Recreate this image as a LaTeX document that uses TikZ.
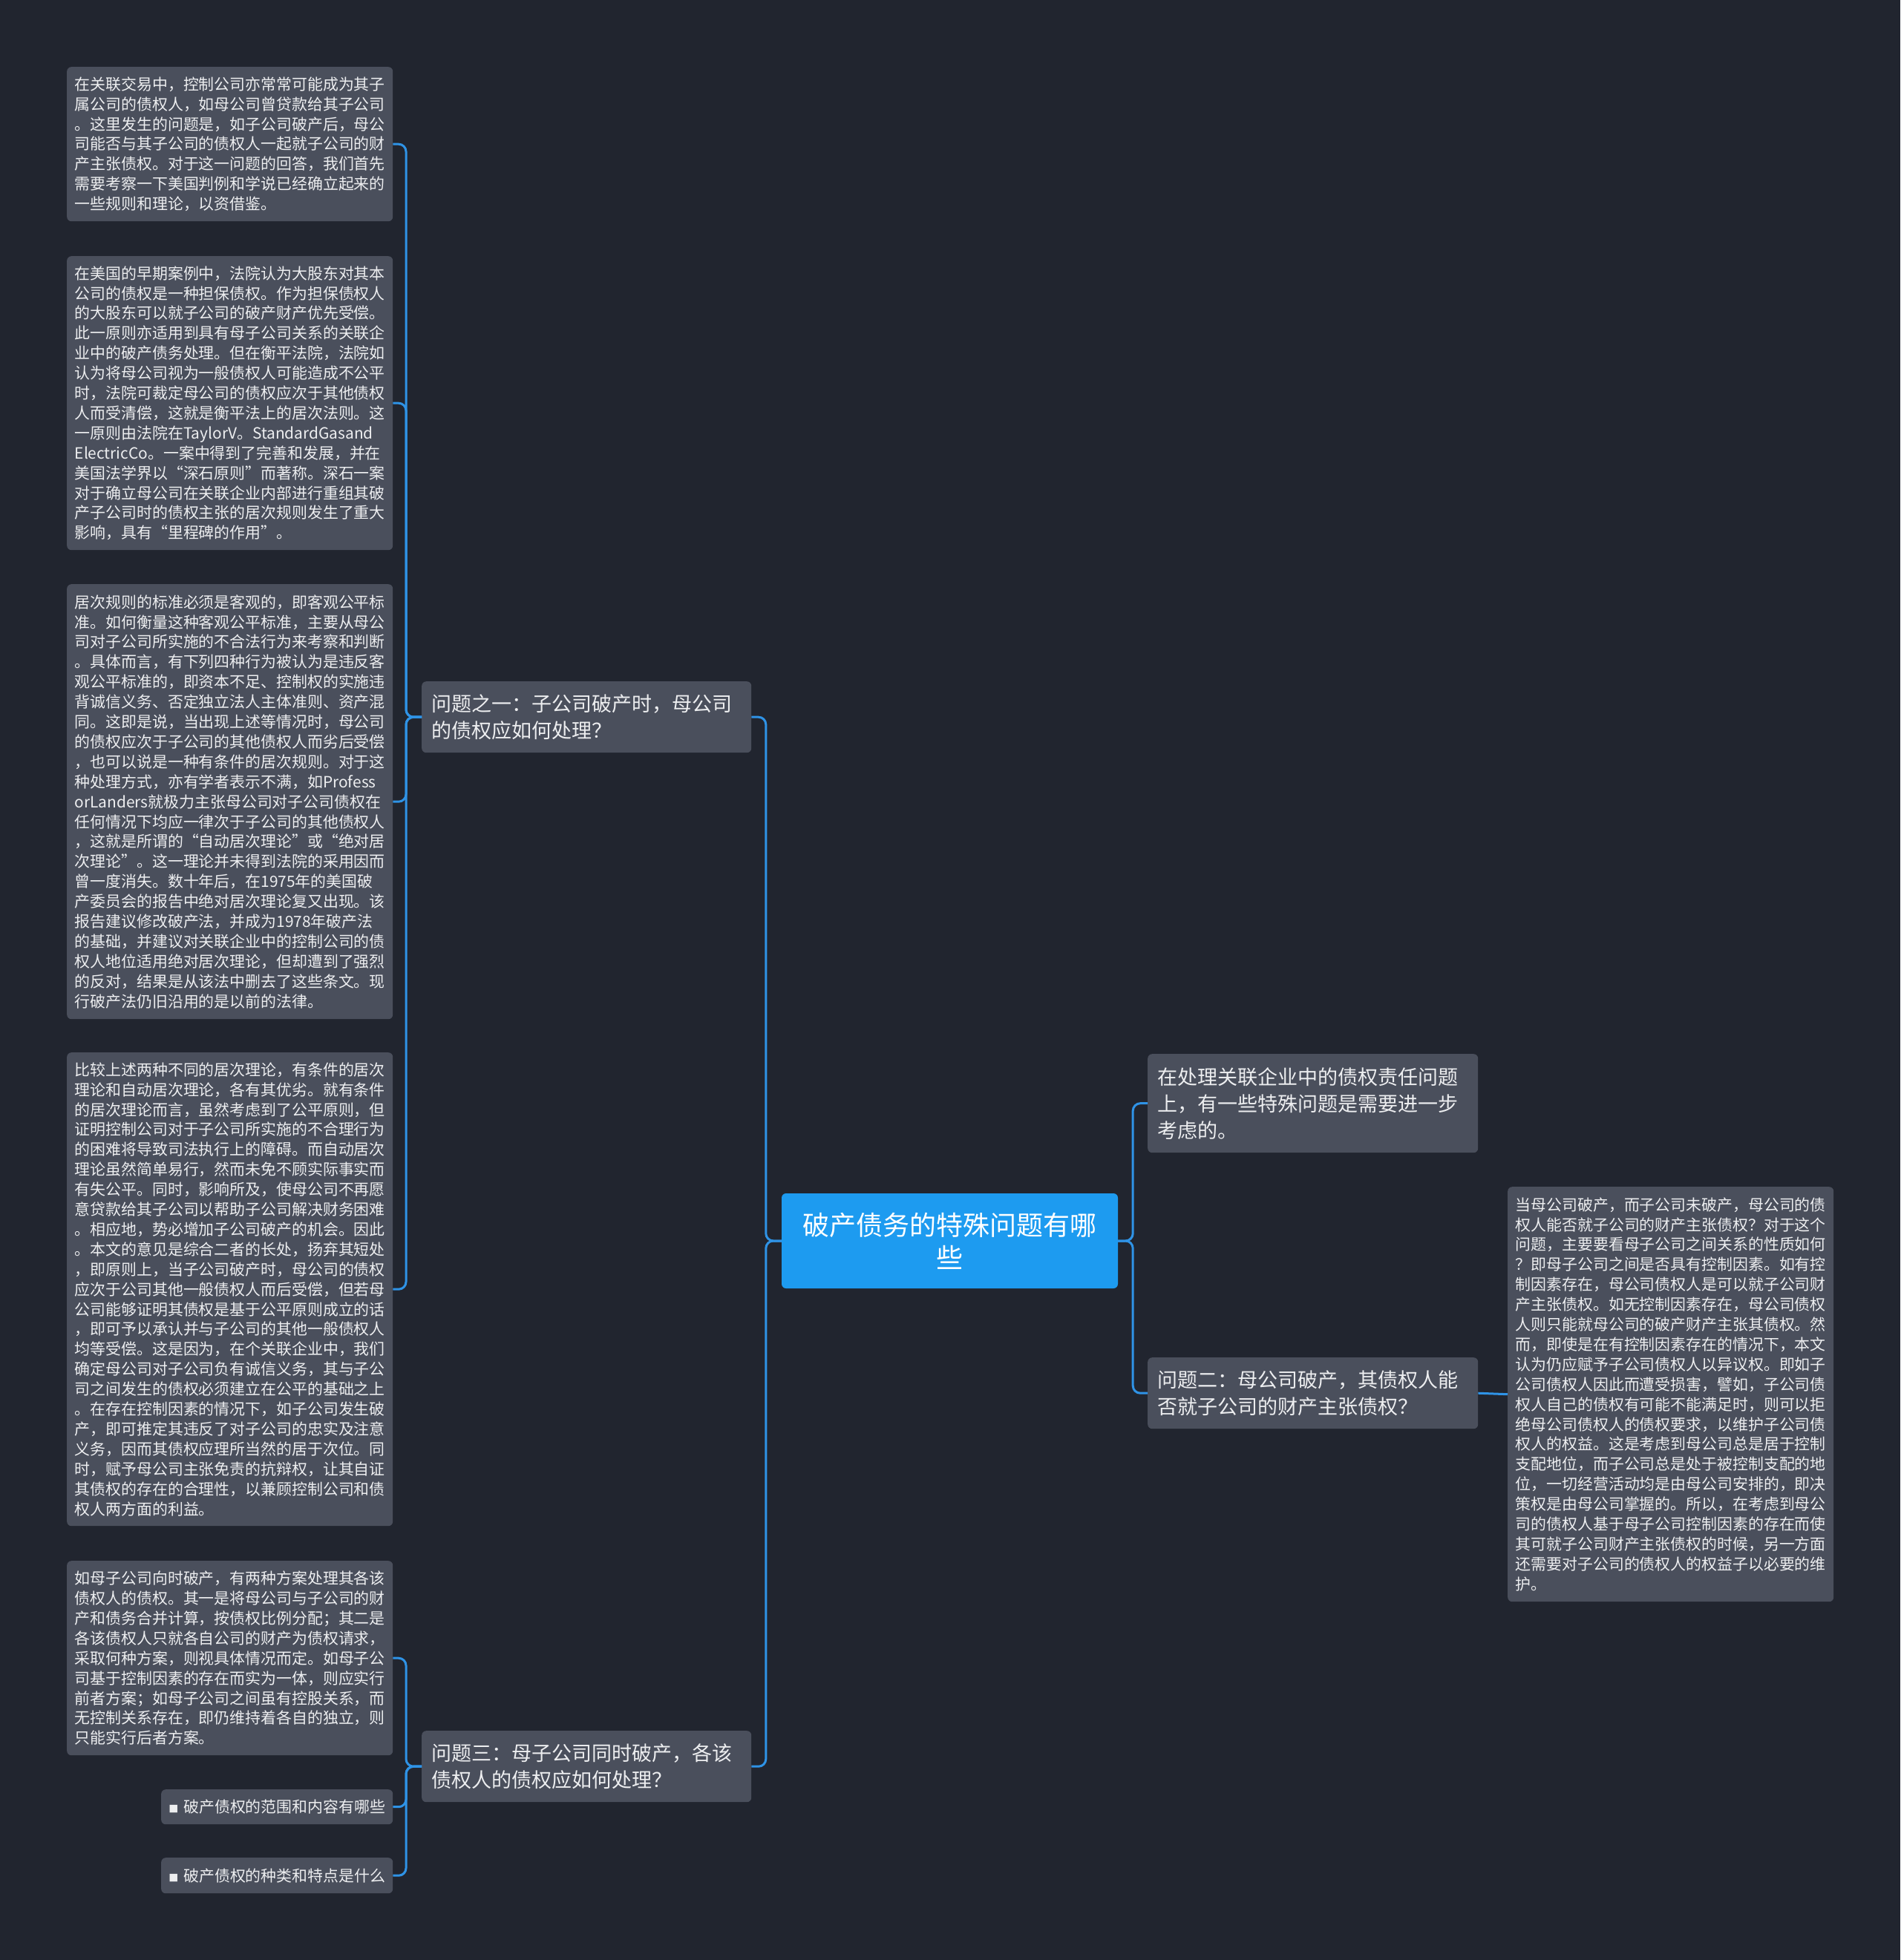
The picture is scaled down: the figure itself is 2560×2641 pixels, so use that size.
\documentclass[tikz,border=0pt]{standalone}
\usepackage{fontspec}
\setmainfont{Noto Sans CJK SC}
\usepackage{tikz}
\usetikzlibrary{positioning,calc}
\definecolor{bgnavy}{HTML}{21252F}
\definecolor{boxgray}{HTML}{4A4F5C}
\definecolor{linkblue}{HTML}{2F93E6}
\definecolor{rootblue}{HTML}{1D9BF0}
\definecolor{txtwhite}{HTML}{EDEEF0}
\newcommand{\leaffont}{\fontsize{20.9}{26.9}\selectfont}
\newcommand{\topicfont}{\fontsize{27}{36}\selectfont}
\newcommand{\rootfont}{\fontsize{36}{44}\selectfont}
\newcommand{\sq}{{\fontsize{13}{13}\selectfont ■}\hspace{7pt}}

\begin{document}
\begin{tikzpicture}[x=1pt,y=-1pt,
    leaf/.style={fill=boxgray, rounded corners=6pt, text=txtwhite, font=\leaffont, align=left, anchor=north west, minimum width=439pt, inner sep=0pt},
    topic/.style={fill=boxgray, rounded corners=6pt, text=txtwhite, font=\topicfont, align=left, anchor=north west, text width=418pt, inner xsep=13pt, inner ysep=0pt},
    link/.style={draw=linkblue, line width=3pt, rounded corners=10pt}]
    \fill[bgnavy] (0,0) rectangle (2560,2641);

    % centre
    \node[fill=rootblue, rounded corners=6pt, text=white, font=\rootfont, align=center, minimum width=453pt, minimum height=128pt] (root) at (1279.5,1672) {破产债务的特殊问题有哪\\些};

    % first level
    \node[topic, minimum height=96pt] (q1) at (568,918) {问题之一：子公司破产时，母公司\\的债权应如何处理？};
    \node[topic, minimum height=96pt] (q3) at (568,2332) {问题三：母子公司同时破产，各该\\债权人的债权应如何处理？};
    \node[topic, minimum height=133pt, text width=419pt] (r1) at (1546,1420) {在处理关联企业中的债权责任问题\\上，有一些特殊问题是需要进一步\\考虑的。};
    \node[topic, minimum height=96pt, text width=419pt] (q2) at (1546,1829) {问题二：母公司破产，其债权人能\\否就子公司的财产主张债权？};

    % leaves of q1
    \node[leaf, minimum height=208pt] (l1) at (90,90) {在关联交易中，控制公司亦常常可能成为其子\\属公司的债权人，如母公司曾贷款给其子公司\\。这里发生的问题是，如子公司破产后，母公\\司能否与其子公司的债权人一起就子公司的财\\产主张债权。对于这一问题的回答，我们首先\\需要考察一下美国判例和学说已经确立起来的\\一些规则和理论，以资借鉴。};
    \node[leaf, minimum height=396pt] (l2) at (90,345) {在美国的早期案例中，法院认为大股东对其本\\公司的债权是一种担保债权。作为担保债权人\\的大股东可以就子公司的破产财产优先受偿。\\此一原则亦适用到具有母子公司关系的关联企\\业中的破产债务处理。但在衡平法院，法院如\\认为将母公司视为一般债权人可能造成不公平\\时，法院可裁定母公司的债权应次于其他债权\\人而受清偿，这就是衡平法上的居次法则。这\\一原则由法院在TaylorV。StandardGasand\\ElectricCo。一案中得到了完善和发展，并在\\美国法学界以“深石原则”而著称。深石一案\\对于确立母公司在关联企业内部进行重组其破\\产子公司时的债权主张的居次规则发生了重大\\影响，具有“里程碑的作用”。};
    \node[leaf, minimum height=586pt] (l3) at (90,787) {居次规则的标准必须是客观的，即客观公平标\\准。如何衡量这种客观公平标准，主要从母公\\司对子公司所实施的不合法行为来考察和判断\\。具体而言，有下列四种行为被认为是违反客\\观公平标准的，即资本不足、控制权的实施违\\背诚信义务、否定独立法人主体准则、资产混\\同。这即是说，当出现上述等情况时，母公司\\的债权应次于子公司的其他债权人而劣后受偿\\，也可以说是一种有条件的居次规则。对于这\\种处理方式，亦有学者表示不满，如Profess\\orLanders就极力主张母公司对子公司债权在\\任何情况下均应一律次于子公司的其他债权人\\，这就是所谓的“自动居次理论”或“绝对居\\次理论”。这一理论并未得到法院的采用因而\\曾一度消失。数十年后，在1975年的美国破\\产委员会的报告中绝对居次理论复又出现。该\\报告建议修改破产法，并成为1978年破产法\\的基础，并建议对关联企业中的控制公司的债\\权人地位适用绝对居次理论，但却遭到了强烈\\的反对，结果是从该法中删去了这些条文。现\\行破产法仍旧沿用的是以前的法律。};
    \node[leaf, minimum height=638pt] (l4) at (90,1418) {比较上述两种不同的居次理论，有条件的居次\\理论和自动居次理论，各有其优劣。就有条件\\的居次理论而言，虽然考虑到了公平原则，但\\证明控制公司对于子公司所实施的不合理行为\\的困难将导致司法执行上的障碍。而自动居次\\理论虽然简单易行，然而未免不顾实际事实而\\有失公平。同时，影响所及，使母公司不再愿\\意贷款给其子公司以帮助子公司解决财务困难\\。相应地，势必增加子公司破产的机会。因此\\。本文的意见是综合二者的长处，扬弃其短处\\，即原则上，当子公司破产时，母公司的债权\\应次于公司其他一般债权人而后受偿，但若母\\公司能够证明其债权是基于公平原则成立的话\\，即可予以承认并与子公司的其他一般债权人\\均等受偿。这是因为，在个关联企业中，我们\\确定母公司对子公司负有诚信义务，其与子公\\司之间发生的债权必须建立在公平的基础之上\\。在存在控制因素的情况下，如子公司发生破\\产，即可推定其违反了对子公司的忠实及注意\\义务，因而其债权应理所当然的居于次位。同\\时，赋予母公司主张免责的抗辩权，让其自证\\其债权的存在的合理性，以兼顾控制公司和债\\权人两方面的利益。};

    % leaves of q3
    \node[leaf, minimum height=262pt] (l5) at (90,2103) {如母子公司向时破产，有两种方案处理其各该\\债权人的债权。其一是将母公司与子公司的财\\产和债务合并计算，按债权比例分配；其二是\\各该债权人只就各自公司的财产为债权请求，\\采取何种方案，则视具体情况而定。如母子公\\司基于控制因素的存在而实为一体，则应实行\\前者方案；如母子公司之间虽有控股关系，而\\无控制关系存在，即仍维持着各自的独立，则\\只能实行后者方案。};
    \node[leaf, minimum width=312pt, minimum height=47pt] (s1) at (217,2411) {\sq 破产债权的范围和内容有哪些};
    \node[leaf, minimum width=312pt, minimum height=48pt] (s2) at (217,2503) {\sq 破产债权的种类和特点是什么};

    % leaf of q2
    \node[leaf, minimum height=559pt] (l6) at (2031,1599) {当母公司破产，而子公司未破产，母公司的债\\权人能否就子公司的财产主张债权？对于这个\\问题，主要要看母子公司之间关系的性质如何\\？即母子公司之间是否具有控制因素。如有控\\制因素存在，母公司债权人是可以就子公司财\\产主张债权。如无控制因素存在，母公司债权\\人则只能就母公司的破产财产主张其债权。然\\而，即使是在有控制因素存在的情况下，本文\\认为仍应赋予子公司债权人以异议权。即如子\\公司债权人因此而遭受损害，譬如，子公司债\\权人自己的债权有可能不能满足时，则可以拒\\绝母公司债权人的债权要求，以维护子公司债\\权人的权益。这是考虑到母公司总是居于控制\\支配地位，而子公司总是处于被控制支配的地\\位，一切经营活动均是由母公司安排的，即决\\策权是由母公司掌握的。所以，在考虑到母公\\司的债权人基于母子公司控制因素的存在而使\\其可就子公司财产主张债权的时候，另一方面\\还需要对子公司的债权人的权益子以必要的维\\护。};

    % links
    \foreach \t in {q1,q3}
        \draw[link] (root.west) -- ++(-21,0) |- (\t.east);
    \foreach \t in {r1,q2}
        \draw[link] (root.east) -- ++(20,0) |- (\t.west);
    \foreach \t in {l1,l2,l3,l4}
        \draw[link] (q1.west) -- ++(-21,0) |- (\t.east);
    \foreach \t in {l5,s1,s2}
        \draw[link] (q3.west) -- ++(-21,0) |- (\t.east);
    \draw[link] (q2.east) -- (l6.west);
\end{tikzpicture}
\end{document}
